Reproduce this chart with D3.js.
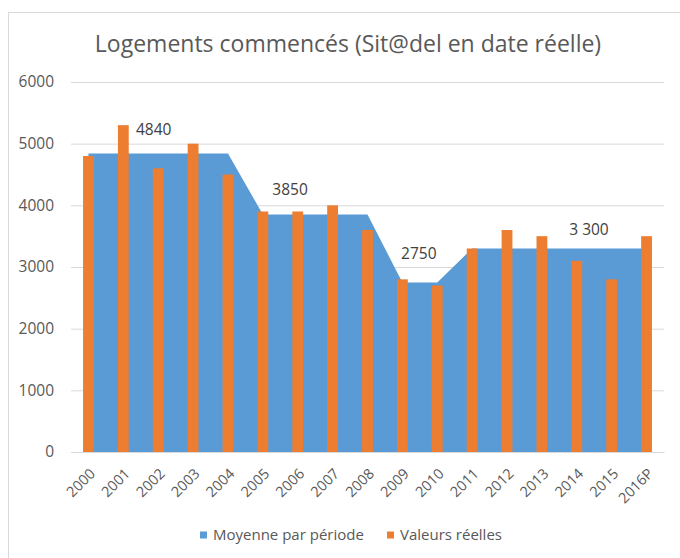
<!DOCTYPE html>
<html>
<head>
<meta charset="utf-8">
<script src="https://cdn.jsdelivr.net/npm/d3@7/dist/d3.min.js"></script>
<style>
  html, body { margin: 0; padding: 0; background: #fff; }
  svg { display: block; font-family: 'Open Sans', sans-serif; }
</style>
</head>
<body>
<svg id="chart" width="680" height="558"></svg>
<script>
// data
const years = ['2000', '2001', '2002', '2003', '2004', '2005', '2006', '2007', '2008',
  '2009', '2010', '2011', '2012', '2013', '2014', '2015', '2016P'];
const actual = [4800, 5300, 4600, 5000, 4500, 3900, 3900, 4000, 3600,
  2800, 2700, 3300, 3600, 3500, 3100, 2800, 3500];
const periodAvg = [4840, 4840, 4840, 4840, 4840, 3850, 3850, 3850, 3850,
  2750, 2750, 3300, 3300, 3300, 3300, 3300, 3300];
const yTicks = [0, 1000, 2000, 3000, 4000, 5000, 6000];
// period labels: text, category position (fractional index), value
const avgLabels = ['4840', '3850', '2750', '3 300'];
const avgLabelAt = [1.87, 5.78, 9.47, 14.35];
const avgLabelValue = [5230, 4250, 3220, 3610];
const seriesNames = ['Moyenne par période', 'Valeurs réelles'];

const title = 'Logements commencés (Sit@del en date réelle)';
const blue = '#5b9bd5';
const orange = '#ed7d31';
const textGrey = '#595959';

const svg = d3.select('#chart');

// chart frame
svg.append('rect')
  .attr('x', 8.5).attr('y', 12.5)
  .attr('width', 720).attr('height', 620)
  .attr('fill', '#fff')
  .attr('stroke', '#d9d9d9');

// scales
const x = d3.scaleBand().domain(years).range([71, 664]);
const cx = d => x(d) + x.bandwidth() / 2;
const pos = i => x(years[0]) + x.bandwidth() / 2 + i * x.step();
const y = d3.scaleLinear().domain([0, 6000]).range([452, 82]);

// title
svg.append('text')
  .attr('x', 348).attr('y', 52)
  .attr('text-anchor', 'middle')
  .attr('font-size', 23)
  .attr('fill', textGrey)
  .text(title);

// gridlines + y labels
const yAxis = d3.axisLeft(y)
  .tickValues(yTicks)
  .tickFormat(d3.format('d'))
  .tickSize(-(664 - 71))
  .tickPadding(17);
const yg = svg.append('g')
  .attr('transform', 'translate(71,0)')
  .call(yAxis);
yg.select('.domain').remove();
yg.selectAll('.tick line').attr('stroke', '#d9d9d9');
yg.selectAll('.tick text')
  .attr('fill', textGrey)
  .attr('font-size', 15.5)
  .attr('font-family', "'Open Sans', sans-serif");

// area: average per period
const area = d3.area()
  .x((d, i) => cx(years[i]))
  .y0(y(0))
  .y1(d => y(d));
svg.append('path')
  .datum(periodAvg)
  .attr('d', area)
  .attr('fill', blue);

// columns: actual values
const barW = x.step() * 0.31;
svg.append('g').selectAll('rect')
  .data(actual)
  .enter()
  .append('rect')
  .attr('x', (d, i) => cx(years[i]) - barW / 2)
  .attr('y', d => y(d))
  .attr('width', barW)
  .attr('height', d => y(0) - y(d))
  .attr('fill', orange);

// x axis
const xAxis = d3.axisBottom(x).tickSize(0).tickPadding(0);
const xg = svg.append('g')
  .attr('transform', `translate(0,${y(0)})`)
  .call(xAxis);
xg.select('.domain').attr('stroke', '#d9d9d9');
xg.selectAll('.tick text')
  .attr('fill', textGrey)
  .attr('font-size', 14.5)
  .attr('font-family', "'Open Sans', sans-serif")
  .attr('text-anchor', 'end')
  .attr('transform', 'translate(4,19) rotate(-45)')
  .attr('dy', '0.35em');

// period labels
svg.append('g').selectAll('text')
  .data(avgLabels)
  .enter()
  .append('text')
  .attr('x', (d, i) => pos(avgLabelAt[i]))
  .attr('y', (d, i) => y(avgLabelValue[i]))
  .attr('text-anchor', 'middle')
  .attr('dy', '0.35em')
  .attr('font-size', 15.5)
  .attr('fill', '#404040')
  .text(d => d);

// legend
const legend = svg.append('g').attr('transform', 'translate(0,535)');
const legendX = [200, 387];
const legendColors = [blue, orange];
seriesNames.forEach((name, i) => {
  legend.append('rect')
    .attr('x', legendX[i]).attr('y', -3.5)
    .attr('width', 7).attr('height', 7)
    .attr('fill', legendColors[i]);
  legend.append('text')
    .attr('x', legendX[i] + 13).attr('y', 0)
    .attr('dy', '0.35em')
    .attr('font-size', 15)
    .attr('fill', textGrey)
    .text(name);
});
</script>
</body>
</html>
